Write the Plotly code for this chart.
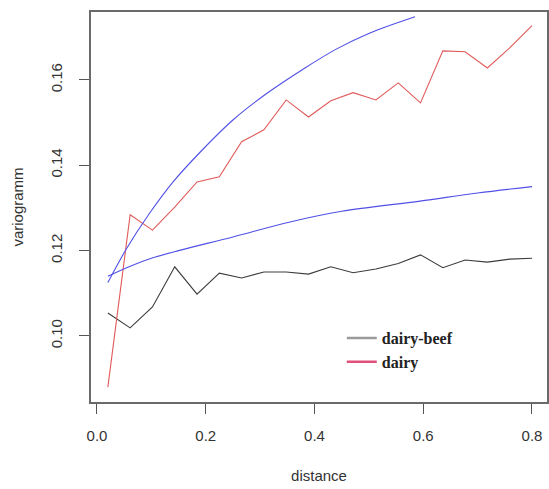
import plotly.graph_objects as go

# distance lags
dist = [0.02, 0.061, 0.102, 0.143, 0.184, 0.225, 0.266, 0.307, 0.348, 0.389,
        0.43, 0.471, 0.513, 0.554, 0.595, 0.636, 0.677, 0.718, 0.759, 0.8]

# empirical variograms
dairy_beef = [0.1054, 0.1019, 0.1068, 0.1162, 0.1098, 0.1147, 0.1136, 0.1150, 0.1150, 0.1145,
              0.1162, 0.1148, 0.1157, 0.1170, 0.1190, 0.1160, 0.1178, 0.1173, 0.1180, 0.1182]
dairy = [0.0880, 0.1284, 0.1248, 0.1302, 0.1361, 0.1373, 0.1455, 0.1483, 0.1553, 0.1513,
         0.1551, 0.1570, 0.1553, 0.1593, 0.1546, 0.1668, 0.1666, 0.1628, 0.1675, 0.1727]

# fitted model curves
fit_hi_x = [0.02, 0.055, 0.097, 0.14, 0.19, 0.25, 0.312, 0.379, 0.44, 0.502, 0.585]
fit_hi_y = [0.1125, 0.1206, 0.1288, 0.1361, 0.1431, 0.1506, 0.1568, 0.1625, 0.1672, 0.1710, 0.1748]
fit_lo_x = [0.02, 0.06, 0.10, 0.15, 0.25, 0.355, 0.45, 0.594, 0.70, 0.80]
fit_lo_y = [0.1140, 0.1163, 0.1182, 0.1200, 0.1232, 0.1267, 0.1292, 0.1316, 0.1335, 0.1350]

legend_names = ["dairy-beef", "dairy"]
legend_colors = ["#9a9a9a", "#e0507a"]

SANS = "Liberation Sans, Arial, sans-serif"

fig = go.Figure()
fig.add_trace(go.Scatter(x=dist, y=dairy_beef, mode="lines", showlegend=False,
                         line={"color": "#3c3c3c", "width": 1.1}))
fig.add_trace(go.Scatter(x=dist, y=dairy, mode="lines", showlegend=False,
                         line={"color": "#e05a5a", "width": 1.1}))
fig.add_trace(go.Scatter(x=fit_hi_x, y=fit_hi_y, mode="lines", showlegend=False,
                         line={"color": "#5050e6", "width": 1.1, "shape": "spline"}))
fig.add_trace(go.Scatter(x=fit_lo_x, y=fit_lo_y, mode="lines", showlegend=False,
                         line={"color": "#5050e6", "width": 1.1, "shape": "spline"}))
for name, col in zip(legend_names, legend_colors):
    fig.add_trace(go.Scatter(x=[None], y=[None], mode="lines", name=name,
                             line={"color": col, "width": 2.5}))

axis_common = dict(
    showgrid=False, zeroline=False, showline=True, mirror=True, automargin=False,
    linecolor="#6a6a6a", linewidth=1.5,
    ticks="outside", ticklen=10, tickwidth=1.3, tickcolor="#555555",
    tickfont={"family": SANS, "size": 15, "color": "#333333"},
)

fig.update_xaxes(
    range=[-0.011, 0.8276], tickvals=[0.0, 0.2, 0.4, 0.6, 0.8],
    ticktext=["0.0", "0.2", "0.4", "0.6", "0.8"], ticklabelstandoff=9,
    title={"text": "distance", "font": {"family": SANS, "size": 15, "color": "#333333"},
           "standoff": 28},
    **axis_common,
)
fig.update_yaxes(
    range=[0.08453, 0.1759], tickvals=[0.10, 0.12, 0.14, 0.16],
    ticktext=["0.10", "0.12", "0.14", "0.16"], tickangle=-90, ticklabelstandoff=11,
    title={"text": "variogramm", "font": {"family": SANS, "size": 15, "color": "#333333"},
           "standoff": 21},
    **axis_common,
)

fig.update_layout(
    width=549, height=489,
    margin={"l": 91, "r": 2, "t": 12, "b": 87},
    paper_bgcolor="white", plot_bgcolor="white",
    legend={"x": 0.55, "y": 0.133, "xanchor": "left", "yanchor": "middle",
            "bgcolor": "rgba(0,0,0,0)", "tracegroupgap": 0,
            "font": {"family": "Liberation Serif, Times New Roman, serif", "size": 16,
                     "color": "#222222", "weight": "bold"}},
)

fig.write_html("out.html", config={"displayModeBar": False},
               post_script="document.body.style.margin='0';")
